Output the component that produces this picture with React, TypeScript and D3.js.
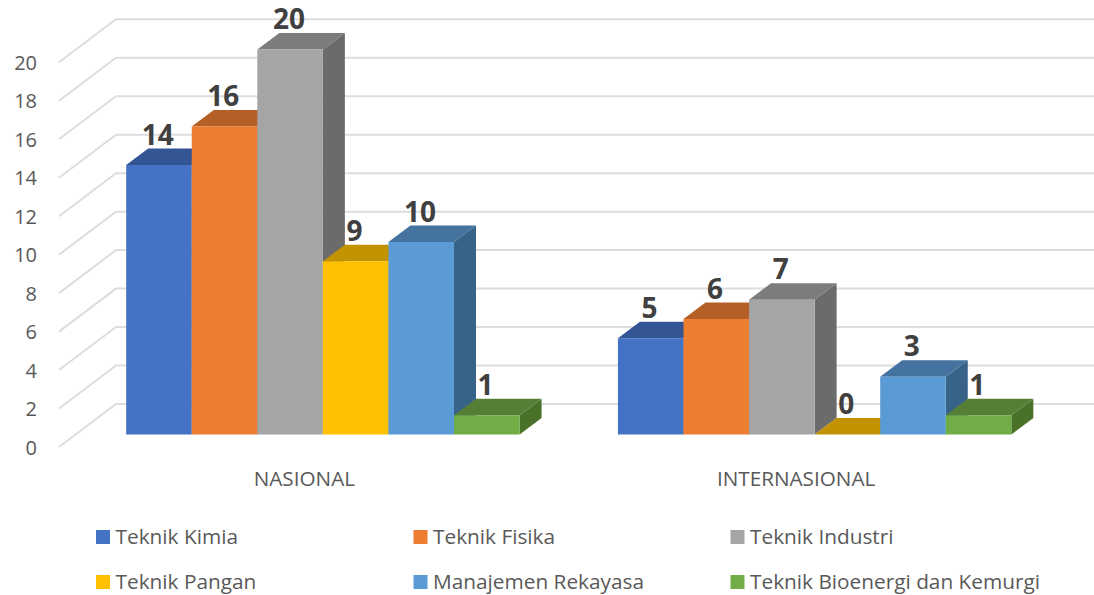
import React from "react";
import * as d3 from "d3";

const categories = ["NASIONAL", "INTERNASIONAL"];
const seriesNames = ["Teknik Kimia", "Teknik Fisika", "Teknik Industri", "Teknik Pangan", "Manajemen Rekayasa", "Teknik Bioenergi dan Kemurgi"];
const nasional = [14, 16, 20, 9, 10, 1];
const internasional = [5, 6, 7, 0, 3, 1];
const frontColors = ["#4472C4", "#ED7D31", "#A5A5A5", "#FFC000", "#5B9BD5", "#70AD47"];
const topColors = ["#335593", "#B45F26", "#7C7C7C", "#C29200", "#44739F", "#557F36"];
const sideColors = ["#2C4A80", "#9C5220", "#6B6B6B", "#A87E00", "#386389", "#4A7129"];
const ticks = [0, 2, 4, 6, 8, 10, 12, 14, 16, 18, 20];
const groupValues = [nasional, internasional];

const W = 1094, H = 595;
const FONT = "'Open Sans', sans-serif";
const DX = 22, DY = 16.5;

const yBar = d3.scaleLinear().domain([0, 20]).range([434.5, 49.5]);
const yFrontGrid = d3.scaleLinear().domain([0, 20]).range([447, 62.3]);
const yBackGrid = d3.scaleLinear().domain([0, 20]).range([404, 19.3]);
const xGroup = d3.scaleBand().domain(categories).range([77, 1060.5]).paddingInner(0.2).paddingOuter(0.1);
const xSeries = d3.scaleBand().domain(seriesNames).range([0, xGroup.bandwidth()]);

const poly = (pts: number[][]) => d3.line()(pts as [number, number][]) + "Z";

const legendX = d3.scaleOrdinal<number, number>().domain([0, 1, 2]).range([96, 413.5, 730.5]);
const legendY = d3.scaleOrdinal<number, number>().domain([0, 1]).range([537, 582]);

export default function App() {
  return (
    <svg width={W} height={H} style={{ position: "absolute", left: 0, top: 0, background: "#fff" }} fontFamily={FONT}>
      {ticks.map((t) => (
        <g key={t}>
          <polyline
            points={`59,${yFrontGrid(t)} 116,${yBackGrid(t)} ${W},${yBackGrid(t)}`}
            fill="none"
            stroke="#DDDDDD"
            strokeWidth={2}
          />
          <text x={37} y={yFrontGrid(t) + 7.5} textAnchor="end" fontSize={20} fill="#595959">{t}</text>
        </g>
      ))}
      {categories.map((c, gi) => {
        const g0 = xGroup(c)!;
        return (
          <g key={c}>
            {groupValues[gi].map((v, i) => {
              const x0 = g0 + xSeries(seriesNames[i])!;
              const x1 = x0 + xSeries.bandwidth();
              const yt = yBar(v), yb = yBar(0);
              return (
                <g key={i}>
                  <path d={poly([[x1, yb], [x1 + DX, yb - DY], [x1 + DX, yt - DY], [x1, yt]])} fill={sideColors[i]} />
                  <path d={poly([[x0, yt], [x0 + DX, yt - DY], [x1 + DX, yt - DY], [x1, yt]])} fill={topColors[i]} />
                  <rect x={x0} y={yt} width={x1 - x0} height={yb - yt} fill={frontColors[i]} />
                </g>
              );
            })}
            {groupValues[gi].map((v, i) => {
              const x0 = g0 + xSeries(seriesNames[i])!;
              return (
                <text key={i} x={x0 + xSeries.bandwidth() / 2 - 1.2} y={yBar(v) - 20.5} textAnchor="middle" fontSize={28} fontWeight={700} fill="#404040">{v}</text>
              );
            })}
            <text x={g0 + xGroup.bandwidth() / 2 - 18.5} y={486} textAnchor="middle" fontSize={20.7} fill="#595959">{c}</text>
          </g>
        );
      })}
      {seriesNames.map((s, i) => {
        const col = i % 3, row = Math.floor(i / 3);
        return (
          <g key={s}>
            <rect x={legendX(col)} y={legendY(row) - 7} width={14} height={14} fill={frontColors[i]} />
            <text x={legendX(col) + 19.5} y={legendY(row) + 7} fontSize={20.8} fill="#595959">{s}</text>
          </g>
        );
      })}
    </svg>
  );
}
